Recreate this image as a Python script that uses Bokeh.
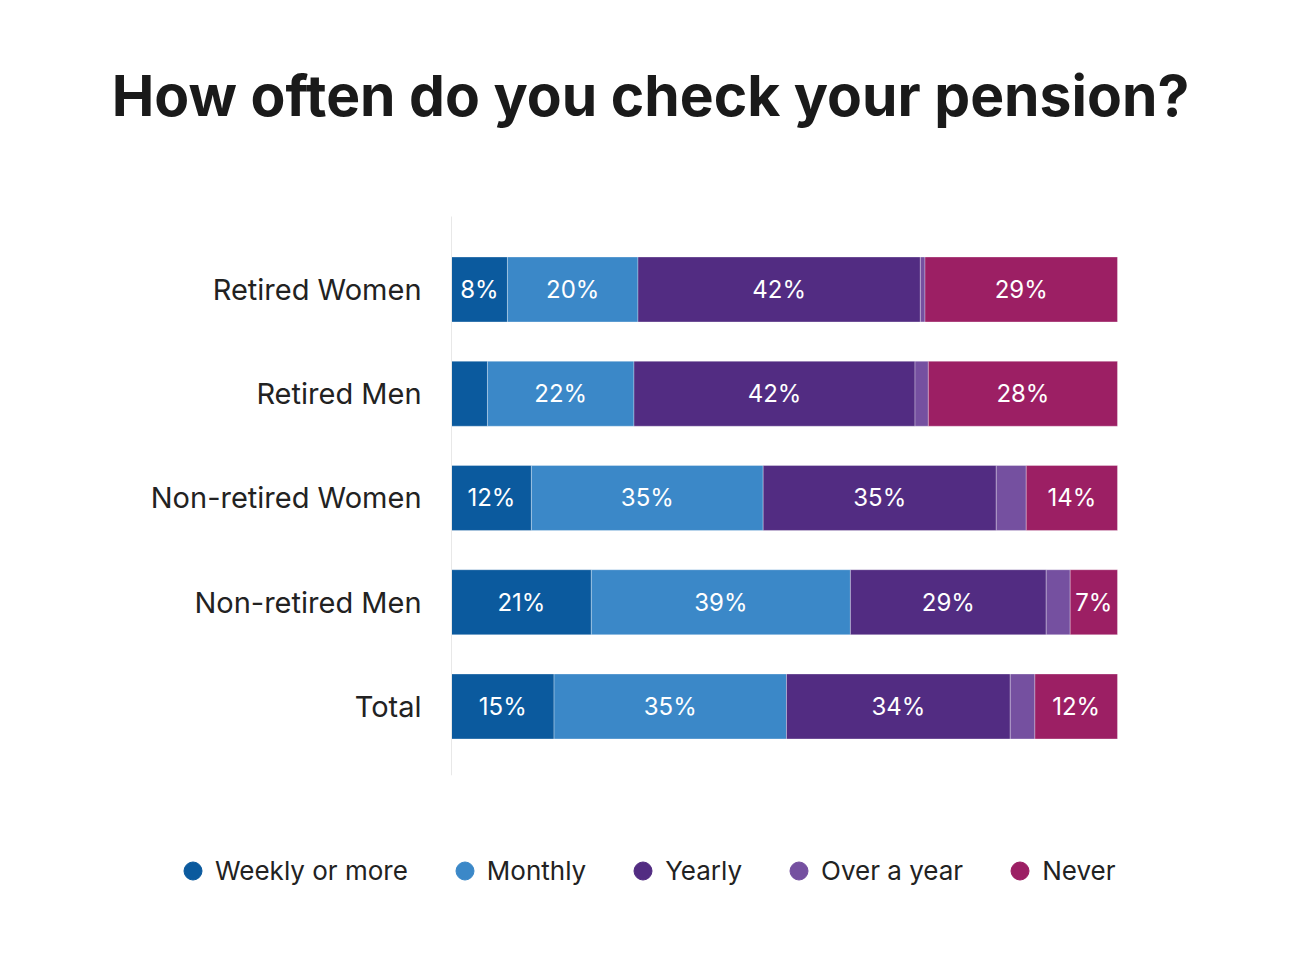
from bokeh.plotting import figure
from bokeh.models import ColumnDataSource, Legend, LegendItem, Label
from bokeh.core.properties import value
from bokeh.embed import file_html
from bokeh.resources import INLINE

groups = ["Retired Women", "Retired Men", "Non-retired Women", "Non-retired Men", "Total"]
series = ["Weekly or more", "Monthly", "Yearly", "Over a year", "Never"]
weekly = [8.4, 5.4, 12.0, 21.0, 15.4]
monthly = [19.6, 22.0, 34.8, 38.9, 34.9]
yearly = [42.4, 42.2, 35.0, 29.4, 33.6]
over_year = [0.7, 2.0, 4.5, 3.6, 3.7]
never = [28.9, 28.4, 13.7, 7.1, 12.4]
colors = ["#0b5a9e", "#3b88c8", "#522c82", "#7550a0", "#9c1f64"]

FONT = "Inter"
keys = ["weekly", "monthly", "yearly", "over", "never"]
cols = [weekly, monthly, yearly, over_year, never]
ypos = list(range(len(groups)))[::-1]   # top bar first
src = ColumnDataSource(dict(y=ypos, group=groups, **{k: v for k, v in zip(keys, cols)}))

W, H = 1284, 959
# whole canvas is the plot frame, so the title and legend can sit anywhere
p = figure(width=W, height=H, output_backend="svg", toolbar_location=None,
           x_range=(-67.72, 125.08), y_range=(-2.427, 6.772),
           min_border=0)
p.outline_line_color = None
p.grid.visible = False
p.axis.visible = False

p.hbar_stack(keys, y="y", height=0.623, color=colors, source=src,
             line_color="white", line_alpha=0.3, line_width=1)

# thin baseline at 0
p.segment(x0=0, x1=0, y0=min(ypos) - 0.66, y1=max(ypos) + 0.70,
          line_color="#e8e8e8", line_width=1)

# category labels
p.text(x=-4.5, y="y", text="group", source=src, text_font=value(FONT),
       text_font_size="29px", text_color="#222222",
       text_align="right", text_baseline="middle")

# segment labels
lx, ly, lt = [], [], []
for i, yy in enumerate(ypos):
    left = 0
    for c in cols:
        v = c[i]
        if v >= 6:
            lx.append(left + v / 2)
            ly.append(yy)
            lt.append("%d%%" % round(v))
        left += v
p.text(x=lx, y=ly, text=lt, text_color="white", text_font=value(FONT),
       text_font_size="24px", text_align="center", text_baseline="middle")

p.add_layout(Label(x=650, y=H - 95, x_units="screen", y_units="screen",
                   text="How often do you check your pension?", text_font=FONT,
                   text_font_size="57px", text_font_style="bold", text_color="#1a1a1a",
                   text_align="center", text_baseline="middle"))

# legend markers (hidden renderers, only their legend glyphs show)
items = []
for name, col in zip(series, colors):
    r = p.scatter(x=[0], y=[ypos[0]], size=18, marker="circle",
                  fill_color=col, line_color=col, visible=False)
    items.append(LegendItem(label=name, renderers=[r]))
legend = Legend(items=items, orientation="horizontal", location=(170, 66),
                label_text_font=FONT, label_text_font_size="26px",
                label_text_color="#222222", glyph_width=45, glyph_height=45,
                label_standoff=0, spacing=34, padding=0, margin=0,
                inactive_fill_alpha=0, click_policy="none",
                border_line_color=None, background_fill_alpha=0)
p.add_layout(legend, "center")

open("out.html", "w").write(file_html(p, INLINE))
